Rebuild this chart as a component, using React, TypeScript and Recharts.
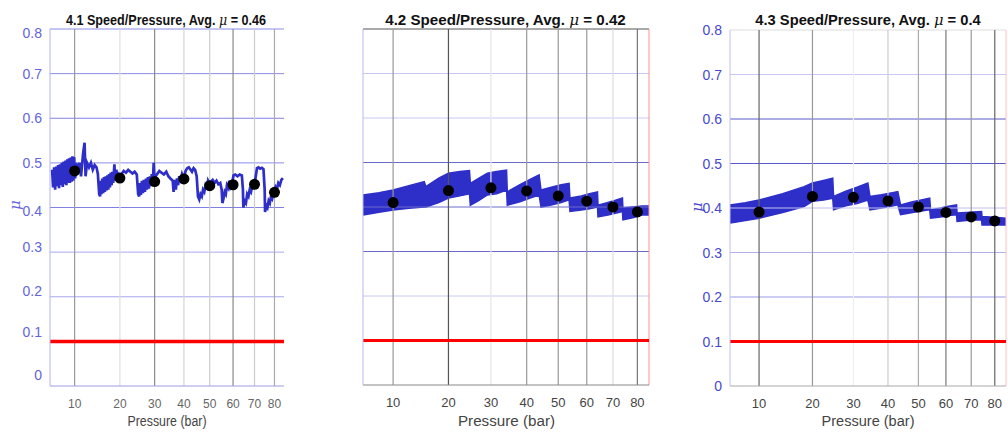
import { ComposedChart, Line, Area, Scatter, XAxis, YAxis, ReferenceLine } from 'recharts';

const xTicks = [10, 20, 30, 40, 50, 60, 70, 80];
const yTicks = [0, 0.1, 0.2, 0.3, 0.4, 0.5, 0.6, 0.7, 0.8];
const limitMu = 0.1;

// 4.1 – raw friction trace, [pressure, mu]
const trace41: [number, number][] = [
  [6.3, 0.485], [6.45, 0.445], [6.6, 0.49], [6.75, 0.44], [6.9, 0.492], [7.05, 0.448],
  [7.2, 0.495], [7.35, 0.443], [7.5, 0.497], [7.65, 0.45], [7.8, 0.5], [7.95, 0.446],
  [8.1, 0.503], [8.25, 0.452], [8.4, 0.505], [8.55, 0.45], [8.7, 0.508], [8.85, 0.455],
  [9.0, 0.51], [9.15, 0.455], [9.3, 0.512], [9.45, 0.458], [9.6, 0.515], [9.75, 0.46],
  [9.9, 0.513], [10.1, 0.465], [10.3, 0.5], [10.5, 0.475], [10.9, 0.5], [11.2, 0.47],
  [11.6, 0.52], [11.9, 0.545], [12.1, 0.47], [12.4, 0.5], [12.8, 0.49], [13.2, 0.5],
  [13.6, 0.485], [14.0, 0.495], [14.4, 0.49], [14.7, 0.475], [15.0, 0.43], [15.2, 0.425],
  [15.3, 0.46], [15.5, 0.43], [15.7, 0.465], [15.9, 0.432], [16.1, 0.468], [16.3, 0.435],
  [16.5, 0.47], [16.7, 0.438], [16.9, 0.472], [17.1, 0.44], [17.3, 0.475], [17.5, 0.445],
  [17.7, 0.478], [17.9, 0.45], [18.1, 0.48], [18.3, 0.455], [18.6, 0.497], [18.8, 0.46],
  [19.1, 0.485], [19.4, 0.462], [19.7, 0.472], [20, 0.466], [20.4, 0.475], [21, 0.482],
  [21.6, 0.478], [22.2, 0.484], [22.8, 0.48], [23.4, 0.476], [24, 0.48], [24.6, 0.474],
  [25, 0.43], [25.3, 0.425], [25.5, 0.455], [25.8, 0.428], [26.1, 0.46], [26.4, 0.432],
  [26.7, 0.462], [27.0, 0.435], [27.3, 0.465], [27.6, 0.44], [27.9, 0.468], [28.2, 0.442],
  [28.5, 0.47], [28.8, 0.448], [29.1, 0.475], [29.4, 0.45], [29.7, 0.5], [30, 0.458],
  [30.3, 0.47], [30.8, 0.475], [31.5, 0.482], [32.2, 0.478], [33, 0.474], [33.8, 0.48],
  [34.5, 0.47], [35.2, 0.465], [36, 0.46], [36.3, 0.435], [36.7, 0.462], [37.1, 0.44],
  [37.5, 0.465], [37.9, 0.45], [38.3, 0.47], [38.8, 0.462], [39.3, 0.475], [40, 0.464],
  [40.6, 0.482], [41.2, 0.488], [41.8, 0.49], [42.4, 0.485], [43, 0.48], [43.6, 0.488],
  [44.2, 0.484], [44.8, 0.47], [45.3, 0.425], [45.8, 0.418], [46.3, 0.43], [46.8, 0.425],
  [47.3, 0.44], [47.8, 0.435], [48.3, 0.45], [48.8, 0.445], [49.3, 0.46], [49.7, 0.455],
  [50, 0.449], [50.5, 0.458], [51.2, 0.462], [52, 0.455], [52.8, 0.46], [53.6, 0.452],
  [54.4, 0.455], [55, 0.44], [55.3, 0.41], [55.8, 0.42], [56.3, 0.435], [56.8, 0.43],
  [57.3, 0.45], [57.8, 0.445], [58.3, 0.46], [58.8, 0.445], [59.5, 0.452], [60.2, 0.472],
  [61, 0.474], [62, 0.47], [63, 0.474], [64, 0.472], [64.5, 0.44], [64.7, 0.4],
  [65.3, 0.415], [65.9, 0.41], [66.5, 0.43], [67.1, 0.425], [67.7, 0.44], [68.3, 0.435],
  [68.9, 0.448], [69.5, 0.445], [70, 0.452], [70.6, 0.47], [71.2, 0.488], [72, 0.49],
  [72.8, 0.487], [73.6, 0.489], [74.4, 0.486], [75, 0.44], [75.2, 0.39], [75.8, 0.405],
  [76.4, 0.4], [77, 0.415], [77.6, 0.41], [78.2, 0.425], [78.8, 0.42], [79.4, 0.432],
  [80, 0.434], [80.6, 0.445], [81.2, 0.44], [82, 0.455], [82.8, 0.45], [83.6, 0.462],
  [84.4, 0.466],
];
const dots41 = [0.482, 0.466, 0.458, 0.464, 0.449, 0.451, 0.452, 0.434];

// 4.2 / 4.3 – dense trace drawn as its envelope, [pressure, low, high]
const band42: [number, number, number][] = [
  [6, 0.382, 0.427], [8, 0.388, 0.432], [10, 0.393, 0.438], [12.5, 0.397, 0.448],
  [15.2, 0.4, 0.457], [15.5, 0.4, 0.446], [18, 0.41, 0.465], [20, 0.42, 0.476],
  [22.5, 0.425, 0.48], [24.7, 0.43, 0.482], [24.9, 0.404, 0.453], [27, 0.415, 0.465],
  [29.1, 0.427, 0.476], [31.5, 0.43, 0.48], [34.2, 0.438, 0.483], [34.4, 0.404, 0.434],
  [38, 0.412, 0.45], [41, 0.42, 0.462], [43.8, 0.427, 0.472], [44.4, 0.4, 0.438],
  [48, 0.405, 0.445], [51, 0.41, 0.45], [53.7, 0.416, 0.453], [54, 0.39, 0.42],
  [58, 0.393, 0.425], [61, 0.396, 0.43], [64, 0.4, 0.434], [64.2, 0.378, 0.404],
  [68, 0.382, 0.41], [71, 0.386, 0.415], [73.8, 0.39, 0.42], [74, 0.371, 0.397],
  [78, 0.376, 0.4], [82, 0.382, 0.402], [85, 0.382, 0.402],
];
const dots42 = [0.41, 0.437, 0.443, 0.436, 0.425, 0.413, 0.4, 0.389];

const band43: [number, number, number][] = [
  [6, 0.366, 0.407], [8, 0.372, 0.412], [10, 0.377, 0.418], [14, 0.39, 0.432],
  [18.2, 0.403, 0.448], [20, 0.415, 0.456], [22.5, 0.418, 0.462], [24.7, 0.422, 0.467],
  [24.9, 0.396, 0.426], [28, 0.405, 0.438], [31, 0.41, 0.447], [34, 0.418, 0.456],
  [34.6, 0.396, 0.426], [38, 0.4, 0.43], [41, 0.404, 0.434], [43.1, 0.407, 0.437],
  [44, 0.385, 0.407], [48, 0.39, 0.414], [51, 0.393, 0.418], [54, 0.396, 0.422],
  [54.3, 0.377, 0.396], [58, 0.38, 0.4], [61, 0.383, 0.404], [64.1, 0.385, 0.407],
  [64.3, 0.37, 0.389], [68, 0.372, 0.39], [71, 0.373, 0.391], [74.3, 0.373, 0.392],
  [74.5, 0.362, 0.381], [80, 0.362, 0.379], [85, 0.362, 0.377],
];
const dots43 = [0.391, 0.426, 0.424, 0.416, 0.402, 0.39, 0.38, 0.371];

const FONT = '"Liberation Sans", Arial, sans-serif';
const SERIF = '"DejaVu Serif", serif';
const TRACE = '#2e2ec8';

const panels = [
  {
    left: 0, width: 300, yw: 50, right: 16, top: 29, bottom: 50,
    data: trace41.map(([p, mu]) => ({ p, mu })), band: false, dots: dots41,
    vGrid: ['#999', '#ddd', '#8a8a8a', '#d4d4d4', '#ccc', '#888', '#ccc', '#aaa'],
    hGrid: ['#a0a0e8', '#b8b8f0', '#a8a8ee', '#a8a8ee', '#8080e4', '#8c8ce8', '#8080e4', '#8c8ce8', '#8c8ce8'],
    yAxisColor: '#b0b0ee', xAxisColor: '#9c9ce0', labelColor: '#6464dc', xLabelColor: '#666', xfs: 12,
    shift: [-11, -9, -6, -5, 3, 0, 0, 0, 4], showY: true, redW: 3.5,
  },
  {
    left: 340, width: 320, yw: 23, right: 11, top: 29, bottom: 51,
    data: band42.map(([p, lo, hi]) => ({ p, lo, hi })), band: true, dots: dots42,
    vGrid: ['#999', '#555', '#e6e6e6', '#999', '#999', '#999', '#ddd', '#777'],
    hGrid: ['#999', '#b8b8f0', '#c8c8f4', '#6a6acc', '#6a6acc', '#6a6acc', '#c8c8f4', '#c8c8f4', '#555'],
    yAxisColor: '#b8b8ee', xAxisColor: '#888', labelColor: '#4848cc', xLabelColor: '#444', xfs: 13,
    shift: [0, 0, 0, 0, 0, 0, 0, 0, 0], showY: false, rightBorder: '#ff9090', redW: 3,
  },
  {
    left: 680, width: 328, yw: 50, right: 2, top: 30, bottom: 50,
    data: band43.map(([p, lo, hi]) => ({ p, lo, hi })), band: true, dots: dots43,
    vGrid: ['#666', '#999', '#eee', '#ccc', '#aaa', '#777', '#999', '#666'],
    hGrid: ['#aaa', '#b8b8f0', '#9a9aea', '#b0b0ee', '#c0c0f0', '#5a5acc', '#5a5acc', '#c8c8f4', '#ddd'],
    yAxisColor: '#c0c0ee', xAxisColor: '#aaa', labelColor: '#4848cc', xLabelColor: '#444', xfs: 13,
    shift: [0, 0, 0, 0, 0, 0, 0, 0, 0], showY: true, rightBorder: '#ffc0c0', redW: 3,
  },
];

const titles = [
  { cx: 166, sx: 0.84, name: '4.1 Speed/Pressure, Avg. ', avg: ' = 0.46' },
  { cx: 505.5, sx: 1.01, name: '4.2 Speed/Pressure, Avg. ', avg: ' = 0.42' },
  { cx: 868, sx: 0.98, name: '4.3 Speed/Pressure, Avg. ', avg: ' = 0.4' },
];
const xTitles = [
  { cx: 167, len: 79 },
  { cx: 506.5, len: 97 },
  { cx: 868, len: 93 },
];

function Panel({ cfg }: { cfg: any }) {
  const dotData = xTicks.map((p, i) => ({ p, mu: cfg.dots[i] }));
  return (
    <div style={{ position: 'absolute', left: cfg.left, top: 0 }}>
      <ComposedChart
        width={cfg.width}
        height={436}
        data={cfg.data}
        margin={{ top: cfg.top, right: cfg.right, bottom: 0, left: 0 }}
      >
        <XAxis
          type="number"
          dataKey="p"
          scale="sqrt"
          domain={[6, 85]}
          ticks={xTicks}
          interval={0}
          allowDataOverflow
          height={cfg.bottom}
          tickLine={false}
          tickSize={0}
          axisLine={{ stroke: cfg.xAxisColor }}
          tick={({ x, y, payload }: any) => (
            <text x={x} y={y + 20} textAnchor="middle" fill={cfg.xLabelColor} fontSize={cfg.xfs} fontFamily={FONT}>
              {payload.value}
            </text>
          )}
        />
        <YAxis
          type="number"
          domain={[0, 0.8]}
          ticks={yTicks}
          interval={0}
          allowDataOverflow
          width={cfg.yw}
          tickLine={false}
          tickSize={0}
          axisLine={{ stroke: cfg.yAxisColor }}
          tick={cfg.showY ? ({ x, y, payload, index }: any) => (
            <text x={x - 6} y={y + cfg.shift[index]} dy="0.36em" textAnchor="end" fill={cfg.labelColor} fontSize={14} fontFamily={FONT}>
              {payload.value}
            </text>
          ) : false}
        />
        {yTicks.slice(1).map((v, i) => (
          <ReferenceLine key={'h' + v} y={v} stroke={cfg.hGrid[i + 1]} strokeWidth={1} />
        ))}
        {xTicks.map((v, i) => (
          <ReferenceLine key={'v' + v} x={v} stroke={cfg.vGrid[i]} strokeWidth={1.2} />
        ))}
        {cfg.rightBorder && <ReferenceLine x={85} stroke={cfg.rightBorder} strokeWidth={1} />}
        <ReferenceLine y={limitMu} stroke="#ff0000" strokeWidth={cfg.redW} />
        {cfg.band ? (
          <Area
            type="linear"
            dataKey={(d: any) => [d.lo, d.hi]}
            stroke={TRACE}
            strokeWidth={1.5}
            fill={TRACE}
            fillOpacity={1}
            isAnimationActive={false}
            dot={false}
            activeDot={false}
          />
        ) : (
          <Line
            type="linear"
            dataKey="mu"
            stroke={TRACE}
            strokeWidth={2.7}
            dot={false}
            activeDot={false}
            isAnimationActive={false}
          />
        )}
        <Scatter
          data={dotData}
          dataKey="mu"
          isAnimationActive={false}
          shape={(s: any) => <circle cx={s.cx} cy={s.cy} r={5.5} fill="#000" />}
        />
      </ComposedChart>
    </div>
  );
}

export default function App() {
  return (
    <div style={{ position: 'absolute', left: 0, top: 0, width: 1008, height: 436, background: '#fff', fontFamily: FONT }}>
      {panels.map((cfg, i) => (
        <Panel key={i} cfg={cfg} />
      ))}
      <svg width={1008} height={436} style={{ position: 'absolute', left: 0, top: 0, pointerEvents: 'none' }}>
        {titles.map((t) => (
          <g key={t.cx} transform={`translate(${t.cx} 25) scale(${t.sx} 1)`}>
            <text x={0} y={0} textAnchor="middle" fontSize={15} fontWeight="bold" fill="#111" fontFamily={FONT}>
              {t.name}
              <tspan fontStyle="italic" fontWeight="normal" fontFamily={SERIF}>μ</tspan>
              {t.avg}
            </text>
          </g>
        ))}
        {xTitles.map((t) => (
          <text key={t.cx} x={t.cx} y={426} textAnchor="middle" fontSize={14} fill="#444"
            fontFamily={FONT} textLength={t.len} lengthAdjust="spacingAndGlyphs">
            Pressure (bar)
          </text>
        ))}
        <text x={20} y={205} transform="rotate(-90 20 205)" textAnchor="middle" fontSize={15} fontStyle="italic"
          fill="#6464dc" fontFamily={SERIF}>μ</text>
        <text x={702} y={207} transform="rotate(-90 702 207)" textAnchor="middle" fontSize={15} fontStyle="italic"
          fill="#4848cc" fontFamily={SERIF}>μ</text>
      </svg>
    </div>
  );
}
